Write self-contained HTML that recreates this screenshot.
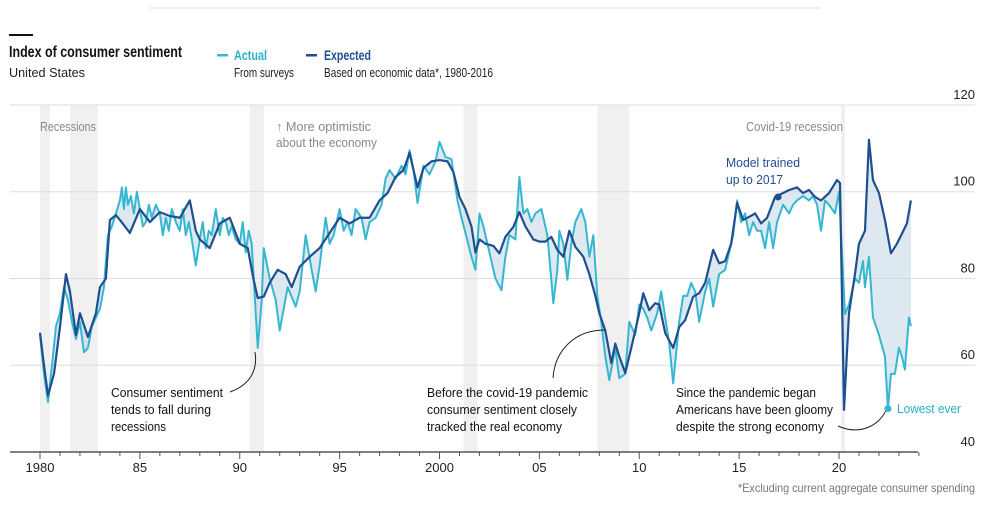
<!DOCTYPE html>
<html><head><meta charset="utf-8">
<style>
body{margin:0;background:#fff;font-family:"Liberation Sans",sans-serif;}
svg{display:block}
text{font-family:"Liberation Sans",sans-serif;}
</style></head>
<body>
<svg id="chart" width="1000" height="514" viewBox="0 0 1000 514">
<line x1="150" y1="8" x2="820" y2="8" stroke="#ddd" stroke-width="1"/>
<rect x="9" y="34" width="24" height="2" fill="#111"/>
<text x="9" y="57" font-size="15.5" font-weight="bold" fill="#111" textLength="173" lengthAdjust="spacingAndGlyphs">Index of consumer sentiment</text>
<text x="9" y="77" font-size="13" fill="#222" textLength="76" lengthAdjust="spacingAndGlyphs">United States</text>
<rect x="217" y="54" width="11" height="2.5" fill="#36b7d1"/>
<text x="234" y="60" font-size="14" font-weight="bold" fill="#2aaec9" textLength="33" lengthAdjust="spacingAndGlyphs">Actual</text>
<text x="234" y="77" font-size="12.5" fill="#222" textLength="60" lengthAdjust="spacingAndGlyphs">From surveys</text>
<rect x="306" y="54" width="11" height="2.5" fill="#1f4f8f"/>
<text x="324" y="60" font-size="14" font-weight="bold" fill="#1f4f8f" textLength="47" lengthAdjust="spacingAndGlyphs">Expected</text>
<text x="324" y="77" font-size="12.5" fill="#222" textLength="169" lengthAdjust="spacingAndGlyphs">Based on economic data*, 1980-2016</text>
<g id="plot"></g>
<text x="975" y="492" font-size="12" fill="#777" text-anchor="end" textLength="237" lengthAdjust="spacingAndGlyphs">*Excluding current aggregate consumer spending</text>
</svg>
<script>
const yTicks=[40,60,80,100,120];
const xTickYears=[1980,1985,1990,1995,2000,2005,2010,2015,2020];
const xTickLabels=["1980","85","90","95","2000","05","10","15","20"];
const recessionStarts=[1980.0,1981.5,1990.5,2001.2,2007.9,2020.1];
const recessionEnds=[1980.5,1982.9,1991.2,2001.9,2009.5,2020.3];
const expectedYears=[1980.0,1980.2,1980.4,1980.7,1981.0,1981.3,1981.5,1981.8,1982.0,1982.4,1982.8,1983.0,1983.3,1983.5,1983.8,1984.0,1984.5,1985.0,1985.5,1986.0,1986.5,1987.0,1987.5,1987.8,1988.0,1988.5,1989.0,1989.5,1990.0,1990.4,1990.7,1990.9,1991.2,1991.5,1991.9,1992.3,1992.6,1993.0,1993.5,1994.0,1994.5,1995.0,1995.5,1996.0,1996.5,1997.0,1997.4,1997.8,1998.2,1998.5,1998.9,1999.2,1999.6,2000.0,2000.4,2000.7,2001.0,2001.3,2001.6,2001.8,2002.0,2002.3,2002.7,2003.0,2003.3,2003.7,2004.0,2004.3,2004.7,2005.0,2005.3,2005.6,2005.9,2006.2,2006.5,2006.8,2007.2,2007.5,2007.8,2008.0,2008.3,2008.6,2008.8,2009.0,2009.3,2009.6,2010.0,2010.2,2010.5,2010.8,2011.0,2011.3,2011.7,2012.0,2012.3,2012.7,2013.0,2013.3,2013.7,2014.0,2014.3,2014.6,2014.9,2015.2,2015.5,2015.8,2016.1,2016.4,2016.8,2017.2,2017.5,2017.9,2018.2,2018.5,2018.8,2019.1,2019.5,2019.9,2020.05,2020.25,2020.5,2020.8,2021.0,2021.3,2021.5,2021.7,2022.0,2022.3,2022.6,2022.9,2023.2,2023.4,2023.6];
const expectedValues=[67.5,60,53,58,68.8,81,77,67,72,66.5,72,78,80,93.5,94.6,93.5,90.5,96,93,95.3,94.4,94,98,91,89,87,92.7,94,88,87,79.6,75.5,75.8,79,82,81,78,82.7,85,87,90.5,94,92.7,94,94,98,99.7,103.4,105,109,101,105.5,107,107.3,107,104.5,98.8,96,92,86,89,88,87.5,85.8,89.6,91.9,95.3,92,89,88.5,88.5,89.6,86.6,85,91,87.3,85,81,76,72,68,60.5,65,62,58.2,64,72,76.6,72.7,74.3,74,67.4,64,68.8,70.4,75.8,76.6,79,86.6,83.5,84,88,97.4,93.5,94.2,95,92.7,94,98.8,99.7,100.4,101,99.7,100.4,98.8,98,99.7,102.7,102,49.7,72,81,88,91,112,102.7,99.7,93.5,85.8,88,90.8,92.7,98];
const actualYears=[1980.0,1980.2,1980.4,1980.6,1980.8,1981.0,1981.2,1981.4,1981.6,1981.8,1982.0,1982.2,1982.4,1982.6,1982.8,1983.0,1983.2,1983.4,1983.6,1983.8,1984.0,1984.1,1984.2,1984.3,1984.4,1984.55,1984.7,1984.85,1985.0,1985.15,1985.3,1985.45,1985.6,1985.8,1986.0,1986.15,1986.3,1986.45,1986.6,1986.8,1987.0,1987.15,1987.3,1987.45,1987.6,1987.8,1988.0,1988.15,1988.3,1988.45,1988.6,1988.8,1989.0,1989.15,1989.3,1989.45,1989.6,1989.8,1990.0,1990.15,1990.3,1990.45,1990.6,1990.9,1991.1,1991.2,1991.5,1991.8,1992.0,1992.4,1992.8,1993.0,1993.3,1993.6,1993.8,1994.0,1994.3,1994.5,1994.7,1995.0,1995.2,1995.4,1995.6,1995.8,1996.1,1996.3,1996.5,1996.8,1997.1,1997.3,1997.5,1997.8,1998.1,1998.3,1998.5,1998.7,1998.9,1999.2,1999.5,1999.8,2000.0,2000.3,2000.6,2000.9,2001.1,2001.3,2001.6,2001.8,2002.0,2002.2,2002.5,2002.8,2003.1,2003.3,2003.5,2003.8,2004.0,2004.2,2004.4,2004.6,2004.8,2005.1,2005.4,2005.7,2005.9,2006.0,2006.2,2006.4,2006.6,2006.8,2007.1,2007.3,2007.5,2007.7,2007.9,2008.1,2008.3,2008.5,2008.8,2009.0,2009.3,2009.5,2009.8,2010.0,2010.2,2010.4,2010.6,2010.9,2011.1,2011.3,2011.5,2011.7,2012.0,2012.2,2012.4,2012.6,2012.8,2013.0,2013.3,2013.5,2013.7,2014.0,2014.3,2014.5,2014.7,2014.9,2015.1,2015.3,2015.5,2015.7,2015.9,2016.1,2016.3,2016.5,2016.7,2016.9,2017.2,2017.5,2017.7,2017.9,2018.2,2018.5,2018.7,2018.9,2019.1,2019.3,2019.5,2019.8,2020.0,2020.3,2020.5,2020.8,2021.0,2021.2,2021.3,2021.5,2021.7,2022.0,2022.3,2022.45,2022.6,2022.8,2023.0,2023.15,2023.3,2023.5,2023.6];
const actualValues=[67,58,51.5,60,69,72,78,75,70,66,70,63,64,69,71,73,78,90,92,95,98,101,96,101,97,99,95,100,96,92,93,97,94,97,95,90,94,91,96,93,91,96,90,93,89,83,89,93,87,91,90,96,90,94,93,90,92,89,88,93,86,91,88,64,75,87,80,75,68,78,73.5,77,90,82,77,83,94,88,90,96,91,93,90,96,94,89,93,94,97,103,105,103,106,104,109.6,105,97.4,106,104,107,111.5,108,107.5,98,94,90.5,85,82,95,92,86,80,77.3,85,90,89,103.4,95,96,93,95,96,90,74.3,82,91,88,79.7,88,93,96,93,85,90,76,70,62,56.6,64,57,58,70,67,74,73,71,68,72,77,71,65,55.8,70,76,76,79,77,70,77,80,73.5,81,82,86,90,98,93,95,90,93,91,91,87,93,87,93,97,95,97,98,99,98,99,97,91,98,97,95,100,71.8,74,80,79,84,78,85,71,67,62,50,58,58,64,62,59,71,69];

const NS='http://www.w3.org/2000/svg';
const plot=document.getElementById('plot');
const X0=40,PX=19.975,Y120=105,PU=4.337;
function xs(t){return X0+(t-1980)*PX;}
function ys(v){return Y120+(120-v)*PU;}
function mk(tag,attrs){const e=document.createElementNS(NS,tag);for(const k in attrs)e.setAttribute(k,attrs[k]);plot.appendChild(e);return e;}

recessionStarts.forEach((s,i)=>{
  const r=mk('rect',{x:xs(s),y:ys(120),width:xs(recessionEnds[i])-xs(s),height:ys(40)-ys(120),fill:'#f0f0f0'});
  
  
});
yTicks.forEach(v=>{
  if(v>40){const l=mk('line',{x1:10,x2:975,y1:ys(v),y2:ys(v),stroke:'#ddd','stroke-width':1});
  
  }
  const t=mk('text',{x:975,y:ys(v)-6,'font-size':13,fill:'#222','text-anchor':'end'});
  t.textContent=v;
  
  
});
const aPts=actualYears.map((t,i)=>xs(t)+','+ys(actualValues[i]));
const ePts=expectedYears.map((t,i)=>xs(t)+','+ys(expectedValues[i]));
const area=mk('polygon',{points:aPts.concat(ePts.slice().reverse()).join(' '),fill:'#c6d8e8','fill-opacity':0.6,'fill-rule':'nonzero'});


const la=mk('polyline',{points:aPts.join(' '),fill:'none',stroke:'#36b7d1','stroke-width':2,'stroke-linejoin':'round'});


const le=mk('polyline',{points:ePts.join(' '),fill:'none',stroke:'#1f4f8f','stroke-width':2.2,'stroke-linejoin':'round'});



const ax=mk('line',{x1:10,x2:918,y1:ys(40),y2:ys(40),stroke:'#555','stroke-width':1.5});


for(let yr=1980;yr<=2024;yr++){
  const major=xTickYears.includes(yr);
  const tk=mk('line',{x1:xs(yr),x2:xs(yr),y1:ys(40),y2:ys(40)+(major?7:4),stroke:'#555','stroke-width':1});
  
  
}
xTickYears.forEach((yr,i)=>{
  const t=mk('text',{x:xs(yr),y:472,'font-size':13,fill:'#222','text-anchor':'middle'});
  t.textContent=xTickLabels[i];
  
  
});

function txt(x,y,s,size,fill,name,w){const t=mk('text',{x:x,y:y,'font-size':size,fill:fill,textLength:w,lengthAdjust:'spacingAndGlyphs'});t.textContent=s;return t;}
txt(40,131,'Recessions',12.5,'#888','recessions-label',56);
txt(276,131,'↑ More optimistic',12.5,'#888','optimistic-label',95);
txt(276,147,'about the economy',12.5,'#888','optimistic-label-2',101);
txt(746,131,'Covid-19 recession',12.5,'#888','covid-recession-label',97);
txt(726,167,'Model trained',13,'#1f4f8f','model-trained-label',74);
txt(726,184,'up to 2017',13,'#1f4f8f','model-trained-label-2',57);
txt(111,397,'Consumer sentiment',13,'#111','annotation-recessions',112);
txt(111,414,'tends to fall during',13,'#111','annotation-recessions-2',100);
txt(111,431,'recessions',13,'#111','annotation-recessions-3',55);
txt(427,397,'Before the covid-19 pandemic',13,'#111','annotation-pre-covid',161);
txt(427,414,'consumer sentiment closely',13,'#111','annotation-pre-covid-2',150);
txt(427,431,'tracked the real economy',13,'#111','annotation-pre-covid-3',135);
txt(676,397,'Since the pandemic began',13,'#111','annotation-pandemic',140);
txt(676,414,'Americans have been gloomy',13,'#111','annotation-pandemic-2',157);
txt(676,431,'despite the strong economy',13,'#111','annotation-pandemic-3',148);
txt(897,413,'Lowest ever',13,'#2aaec9','lowest-ever-label',64);

function conn(d,name){const p=mk('path',{d:d,fill:'none',stroke:'#222','stroke-width':1});}
conn('M230,392 C250,385 258,370 255,352','connector-recessions');
conn('M553,378 C555,350 575,330 605,330','connector-pre-covid');
conn('M838,426 C860,436 880,425 886,410','connector-pandemic');
const d1=mk('circle',{cx:xs(2016.95),cy:ys(98.8),r:3.5,fill:'#1f4f8f'});


const d2=mk('circle',{cx:xs(2022.45),cy:ys(50),r:3.5,fill:'#36b7d1'});


</script>
</body></html>
